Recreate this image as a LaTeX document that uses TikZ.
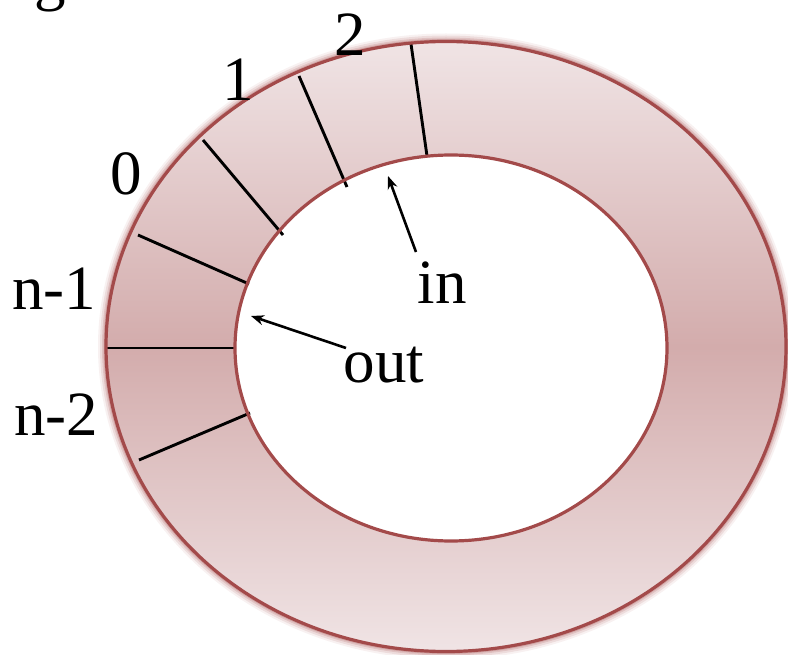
\documentclass[tikz,border=0pt]{standalone}
\usepackage{fontspec}
\setmainfont{Liberation Serif}
\usetikzlibrary{arrows.meta}
\definecolor{ringedge}{RGB}{163,74,74}
\definecolor{ringlight}{RGB}{240,228,229}
\definecolor{ringdark}{RGB}{211,172,172}

\begin{document}
\begin{tikzpicture}[x=1pt, y=-1pt,
    lbl/.style={font=\fontsize{63}{72}\selectfont, inner sep=0pt},
    spoke/.style={line width=2.9pt, black},
    rim/.style={line width=3.2pt, ringedge},
    ptr/.style={line width=2.6pt, -{Stealth[length=13pt, width=10pt]}}
]
    \useasboundingbox (0,0) rectangle (788,655);
    \clip (0,0) rectangle (788,655);

    % soft glow round the ring
    \foreach \w/\o in {16/0.08, 12/0.12, 8/0.18, 5/0.25}
        \draw[line width=\w pt, ringedge, opacity=\o] (446,346.5) ellipse [x radius=340pt, y radius=305pt];
    \shade[top color=ringlight, bottom color=ringlight, middle color=ringdark, even odd rule]
        (446,346.5) ellipse [x radius=340pt, y radius=305pt]
        (451,348) ellipse [x radius=216pt, y radius=193pt];

    \coordinate (o1) at (106,348);  \coordinate (i1) at (235,348);
    \coordinate (o2) at (139,460);  \coordinate (i2) at (250,413);
    \coordinate (o3) at (138,235);  \coordinate (i3) at (249,284);
    \coordinate (o4) at (203,140);  \coordinate (i4) at (283,235);
    \coordinate (o5) at (299,76);   \coordinate (i5) at (347,187);
    \coordinate (o6) at (411,44);   \coordinate (i6) at (427,156);
    \foreach \k in {1,...,6}
        \draw[spoke] (o\k) -- (i\k);

    \draw[rim] (446,346.5) ellipse [x radius=340pt, y radius=305pt];
    \draw[rim] (451,348) ellipse [x radius=216pt, y radius=193pt];

    \node[lbl, anchor=base east] (ringlbl) at (66,-1) {ng};
    \node[lbl] (lab2) at (350,35) {2};
    \node[lbl] (lab1) at (238,80) {1};
    \node[lbl] (lab0) at (126,174) {0};
    \node[lbl] (labn1) at (54,289) {n-1};
    \node[lbl] (labn2) at (56,415) {n-2};
    \node[lbl] (inlbl) at (442,283) {in};
    \node[lbl] (outlbl) at (384,365) {out};

    \coordinate (intail) at (416,252);   \coordinate (intip) at (388,176);
    \coordinate (outtail) at (346,348);  \coordinate (outtip) at (251,316);
    \draw[ptr] (intail) -- (intip);
    \draw[ptr] (outtail) -- (outtip);
\end{tikzpicture}
\end{document}
